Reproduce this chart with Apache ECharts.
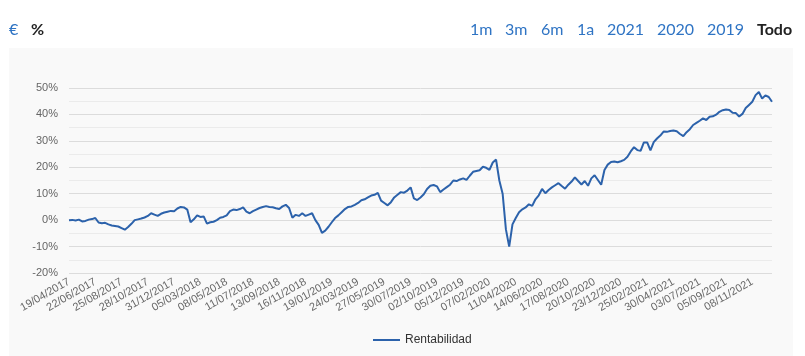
<!DOCTYPE html>
<html>
<head>
<meta charset="utf-8">
<script src="https://cdn.jsdelivr.net/npm/echarts@6/dist/echarts.min.js"></script>
<style>
html,body{margin:0;padding:0;background:#fff;}
#c{width:805px;height:356px;}
</style>
</head>
<body>
<div id="c"></div>
<script>
// ---- data ----
const startDate = '2017-04-19';   // first category, one sample every 8 days
const stepDays = 8;
const seriesName = 'Rentabilidad';
const values = [
 0.0, 0.1, -0.1, 0.2, -0.5, -0.3, 0.2, 0.4, 0.8, -0.9,
 -1.2, -1.0, -1.6, -2.0, -2.2, -2.4, -3.0, -3.6, -2.6, -1.4,
 0.0, 0.3, 0.6, 1.0, 1.6, 2.6, 2.1, 1.6, 2.4, 2.9,
 3.2, 3.5, 3.4, 4.4, 5.0, 4.8, 4.0, -0.8, 0.3, 1.8,
 1.2, 1.4, -1.3, -0.8, -0.6, 0.0, 0.9, 1.2, 1.8, 3.4,
 4.0, 3.8, 4.2, 4.8, 3.2, 2.6, 3.4, 4.0, 4.6, 5.0,
 5.3, 5.0, 4.9, 4.5, 4.2, 5.2, 5.8, 4.6, 0.9, 2.0,
 1.6, 2.6, 1.6, 2.1, 2.6, 0.0, -1.8, -4.8, -4.0, -2.5,
 -0.8, 0.8, 1.8, 3.0, 4.2, 5.0, 5.2, 5.8, 6.5, 7.5,
 7.9, 8.6, 9.3, 9.6, 10.3, 7.4, 6.5, 5.6, 6.8, 8.6,
 9.6, 10.6, 10.4, 11.2, 12.4, 8.2, 7.6, 8.6, 9.8, 11.8,
 13.0, 13.3, 12.8, 10.6, 11.6, 12.5, 13.4, 15.0, 14.8, 15.4,
 15.8, 15.2, 16.8, 18.3, 18.6, 18.9, 20.2, 19.8, 19.0, 21.8,
 22.9, 15.0, 10.0, -3.5, -10.0, -1.6, 0.8, 3.0, 4.1, 4.8,
 6.0, 5.4, 7.9, 9.4, 11.8, 10.2, 11.4, 12.4, 13.2, 14.0,
 12.9, 11.9, 13.4, 14.6, 16.2, 14.8, 13.5, 14.8, 13.0, 15.8,
 17.0, 15.2, 13.4, 19.0, 21.0, 22.0, 22.2, 21.9, 22.3, 22.8,
 24.0, 26.0, 27.6, 26.5, 26.2, 29.4, 29.4, 26.4, 29.5, 30.9,
 32.0, 33.5, 33.4, 33.7, 33.9, 33.6, 32.6, 31.8, 33.3, 34.4,
 36.0, 36.8, 37.6, 38.5, 37.9, 39.1, 39.3, 39.9, 41.0, 41.6,
 41.9, 41.7, 40.6, 40.5, 39.2, 40.2, 42.4, 43.6, 44.8, 47.3,
 48.5, 46.0, 47.2, 46.6, 44.8
];
const yTicks = [-20, -10, 0, 10, 20, 30, 40, 50];
const rangeButtons = ['1m', '3m', '6m', '1a', '2021', '2020', '2019', 'Todo'];
const unitButtons = ['€', '%'];

// categories: dates every stepDays from startDate
function pad(n){return n<10?'0'+n:''+n;}
const categories = [];
{
  const d0 = new Date(startDate + 'T12:00:00Z');
  for (let i = 0; i < values.length; i++) {
    const d = new Date(d0.getTime() + i * stepDays * 86400000);
    categories.push(pad(d.getUTCDate()) + '/' + pad(d.getUTCMonth() + 1) + '/' + d.getUTCFullYear());
  }
}

const chart = echarts.init(document.getElementById('c'), null, {renderer: 'canvas'});

const btnX = [470, 505, 541, 577, 607, 657, 707, 757];
const graphics = [
  {type: 'rect', z: -10, silent: true, shape: {x: 9, y: 48, width: 784, height: 320}, style: {fill: '#f9f9f9'}},
  {type: 'text', left: 9, top: 22, style: {text: unitButtons[0], font: '16px Lato', fill: '#2f74c4'}},
  {type: 'text', left: 31, top: 22, style: {text: unitButtons[1], font: 'bold 16px Lato', fill: '#222'}}
];
rangeButtons.forEach((b, i) => {
  const last = i === rangeButtons.length - 1;
  graphics.push({type: 'text', left: btnX[i], top: 22,
    style: {text: b, font: (last ? 'bold ' : '') + '16px Lato', fill: last ? '#222' : '#2f74c4'}});
});

chart.setOption({
  backgroundColor: '#ffffff',
  animation: false,
  graphic: graphics,
  grid: {left: 69, right: 33, top: 88, bottom: 83, containLabel: false},
  legend: {
    data: [seriesName], bottom: 5, left: 368,
    icon: 'rect', itemWidth: 27, itemHeight: 2, itemGap: 6,
    textStyle: {fontFamily: 'Liberation Sans', fontSize: 12, color: '#333'}
  },
  xAxis: {
    type: 'category', data: categories, boundaryGap: false,
    axisLine: {show: false}, axisTick: {show: false},
    axisLabel: {interval: 7, rotate: 30, fontFamily: 'Liberation Sans', fontSize: 11, color: '#666', margin: 8},
    splitLine: {show: false}
  },
  yAxis: {
    type: 'value', min: yTicks[0], max: yTicks[yTicks.length - 1], interval: 10,
    axisLine: {show: false}, axisTick: {show: false},
    axisLabel: {formatter: '{value}%', fontFamily: 'Liberation Sans', fontSize: 11, color: '#666', margin: 11},
    splitLine: {lineStyle: {color: '#dcdcdc', width: 1}},
    minorTick: {show: false, splitNumber: 2},
    minorSplitLine: {show: true, lineStyle: {color: '#ebebeb', width: 1}}
  },
  series: [{
    name: seriesName, type: 'line', data: values,
    showSymbol: false, symbol: 'none',
    lineStyle: {color: '#2c62ab', width: 2},
    itemStyle: {color: '#2c62ab'}
  }]
});
</script>
</body>
</html>
